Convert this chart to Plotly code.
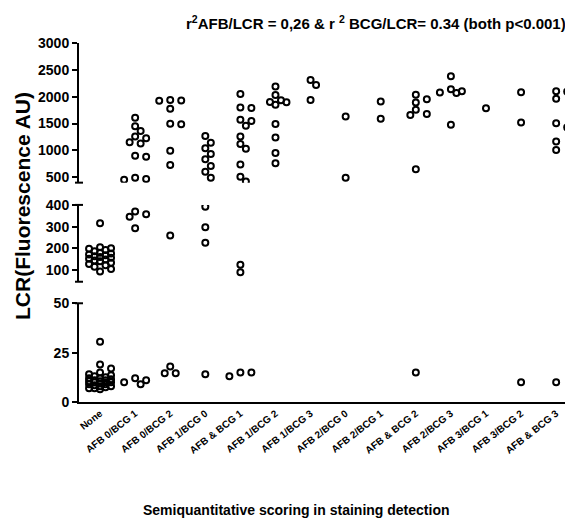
import math
import plotly.graph_objects as go

categories = ["None", "AFB 0/BCG 1", "AFB 0/BCG 2", "AFB 1/BCG 0", "AFB & BCG 1",
              "AFB 1/BCG 2", "AFB 1/BCG 3", "AFB 2/BCG 0", "AFB 2/BCG 1", "AFB & BCG 2",
              "AFB 2/BCG 3", "AFB 3/BCG 1", "AFB 3/BCG 2", "AFB & BCG 3"]

lcr_none = [316, 205, 200, 198, 192, 186, 180, 176, 172, 168, 164, 160, 156, 152, 148,
            144, 140, 134, 128, 122, 115, 105, 93,
            30.5, 19, 17, 15, 14, 13.5, 13, 12.5, 12, 12, 11.5, 11, 11, 10.5, 10.5,
            10, 10, 10, 9.5, 9, 9, 8.5, 8, 8, 7.5, 7, 7, 6.5]
lcr_afb0_bcg1 = [1610, 1450, 1360, 1260, 1225, 1150, 1130, 900, 880, 490, 470, 455,
                 370, 357, 346, 293, 12, 11, 10, 9]
lcr_afb0_bcg2 = [1940, 1930, 1925, 1775, 1495, 1485, 995, 730, 259, 18, 14.5, 14.5]
lcr_afb1_bcg0 = [1270, 1145, 1040, 935, 835, 710, 605, 492, 392, 297, 226, 14]
lcr_afb_bcg1 = [2050, 1800, 1790, 1570, 1550, 1460, 1260, 1120, 1030, 740, 510, 420,
                124, 90, 15, 13, 15]
lcr_afb1_bcg2 = [2190, 2030, 1935, 1900, 1895, 1850, 1490, 1240, 950, 760]
lcr_afb1_bcg3 = [2310, 2220, 1940]
lcr_afb2_bcg0 = [1630, 490]
lcr_afb2_bcg1 = [1910, 1590]
lcr_afb_bcg2 = [2035, 1955, 1890, 1755, 1680, 1660, 650, 15]
lcr_afb2_bcg3 = [2380, 2140, 2100, 2080, 2070, 1480]
lcr_afb3_bcg1 = [1785]
lcr_afb3_bcg2 = [2085, 1520, 10]
lcr_afb_bcg3 = [2100, 2095, 1960, 1505, 1430, 1165, 1010, 10]

groups = [lcr_none, lcr_afb0_bcg1, lcr_afb0_bcg2, lcr_afb1_bcg0, lcr_afb_bcg1,
          lcr_afb1_bcg2, lcr_afb1_bcg3, lcr_afb2_bcg0, lcr_afb2_bcg1, lcr_afb_bcg2,
          lcr_afb2_bcg3, lcr_afb3_bcg1, lcr_afb3_bcg2, lcr_afb_bcg3]

# page has an 8px body margin: the figure is drawn 8px in from the top-left
OFF = 8
W, H = 573 - OFF, 524 - OFF
ML, MR, MT = 79 - OFF, 0, 43 - OFF
MB = H - (402 - OFF)
plot_h = H - MT - MB
plot_w = W - ML - MR
x_range = [-0.6, 13.48]
px_per_cat = plot_w / (x_range[1] - x_range[0])

segments = {
    "y3": {"domain": [0.0, 0.275], "range": [0, 50]},
    "y2": {"domain": [0.335, 0.549], "range": [46, 400]},
    "y": {"domain": [0.611, 1.0], "range": [400, 3000]},
}


def seg_of(v):
    if v < 50:
        return "y3"
    if v <= 400:
        return "y2"
    return "y"


def to_px(v, seg):
    d0, d1 = segments[seg]["domain"]
    r0, r1 = segments[seg]["range"]
    frac = d0 + (v - r0) / (r1 - r0) * (d1 - d0)
    return (1 - frac) * plot_h


def swarm(ys, step=5.5, diam=7.0, maxk=2):
    cands = [0]
    for k in range(1, maxk + 1):
        cands += [k, -k]
    order = sorted(range(len(ys)), key=lambda i: ys[i])
    placed = []
    offs = [0.0] * len(ys)
    for i in order:
        y = ys[i]
        bestc, bestd = 0, -1
        for c in cands:
            x = c * step
            dmin = min((math.hypot(x - px, y - py) for px, py in placed), default=1e9)
            if dmin >= diam:
                bestc = c
                break
            if dmin > bestd:
                bestd, bestc = dmin, c
        offs[i] = bestc * step
        placed.append((offs[i], y))
    return offs


pts = {"y": ([], []), "y2": ([], []), "y3": ([], [])}
for idx, vals in enumerate(groups):
    for seg in pts:
        sv = [v for v in vals if seg_of(v) == seg]
        if not sv:
            continue
        ys = [to_px(v, seg) for v in sv]
        offs = swarm(ys)
        for v, o in zip(sv, offs):
            pts[seg][0].append(idx + o / px_per_cat)
            pts[seg][1].append(v)

fig = go.Figure()
# empty trace so the title-carrying axis is drawn (added first, stays underneath)
fig.add_trace(go.Scatter(x=[None], y=[None], mode="markers", yaxis="y4",
                         showlegend=False, hoverinfo="skip"))
marker = dict(symbol="circle-open", size=6, color="black", line=dict(width=2, color="black"))
for seg, (xs, ys) in pts.items():
    fig.add_trace(go.Scatter(x=xs, y=ys, mode="markers", marker=marker,
                             yaxis=seg, showlegend=False, hoverinfo="y"))

FONT = "Liberation Sans"
tickfont = dict(family=FONT, size=14, color="black", weight="bold")
axis_common = dict(showline=True, linecolor="black", linewidth=2, ticks="outside",
                   ticklen=5, tickwidth=2, tickcolor="black", showgrid=False,
                   zeroline=False, tickfont=tickfont, anchor="x", fixedrange=True)

title_lo = (402 - 327) / plot_h
title_hi = (402 - 85) / plot_h

fig.update_layout(
    width=W, height=H,
    margin=dict(l=ML, r=MR, t=MT, b=MB),
    paper_bgcolor="white", plot_bgcolor="rgba(0,0,0,0)",
    xaxis=dict(range=x_range, tickmode="array", tickvals=list(range(len(categories))),
               ticktext=categories, tickangle=-38, showline=True, linecolor="black",
               linewidth=2, ticks="", showgrid=False, zeroline=False, anchor="y3",
               fixedrange=True,
               tickfont=dict(family=FONT, size=10, color="black", weight="bold")),
    yaxis=dict(domain=segments["y"]["domain"], range=segments["y"]["range"],
               tick0=0, dtick=500, **axis_common),
    yaxis2=dict(domain=segments["y2"]["domain"], range=segments["y2"]["range"],
                tick0=0, dtick=100, **axis_common),
    yaxis3=dict(domain=segments["y3"]["domain"], range=segments["y3"]["range"],
                tick0=0, dtick=25, **axis_common),
    yaxis4=dict(domain=[title_lo, title_hi], range=[0, 1], anchor="x",
                showline=False, showticklabels=False, ticks="", showgrid=False,
                zeroline=False, fixedrange=True,
                title=dict(text="LCR(Fluorescence AU)", standoff=41,
                           font=dict(family=FONT, size=21, color="black", weight="bold"))),
)

cap = 4 / plot_w
for yref, yv in [("y domain", 0), ("y2 domain", 0), ("y2 domain", 1), ("y3 domain", 1)]:
    fig.add_shape(type="line", xref="paper", yref=yref, x0=-cap, x1=cap, y0=yv, y1=yv,
                  line=dict(color="black", width=2))

fig.add_annotation(
    text="r<sup>2</sup>AFB/LCR = 0,26 &amp; r <sup>2</sup> BCG/LCR= 0.34 (both p&lt;0.001)",
    xref="paper", yref="paper", x=(568 - 79) / plot_w, y=(402 - 23) / plot_h,
    xanchor="right", yanchor="middle", showarrow=False,
    font=dict(family=FONT, size=15, color="black", weight="bold"))
fig.add_annotation(
    text="Semiquantitative scoring in staining detection",
    xref="paper", yref="paper", x=(296 - 79) / plot_w, y=(402 - 510) / plot_h,
    xanchor="center", yanchor="middle", showarrow=False,
    font=dict(family=FONT, size=14, color="black", weight="bold"))

fig.write_html("out.html")
